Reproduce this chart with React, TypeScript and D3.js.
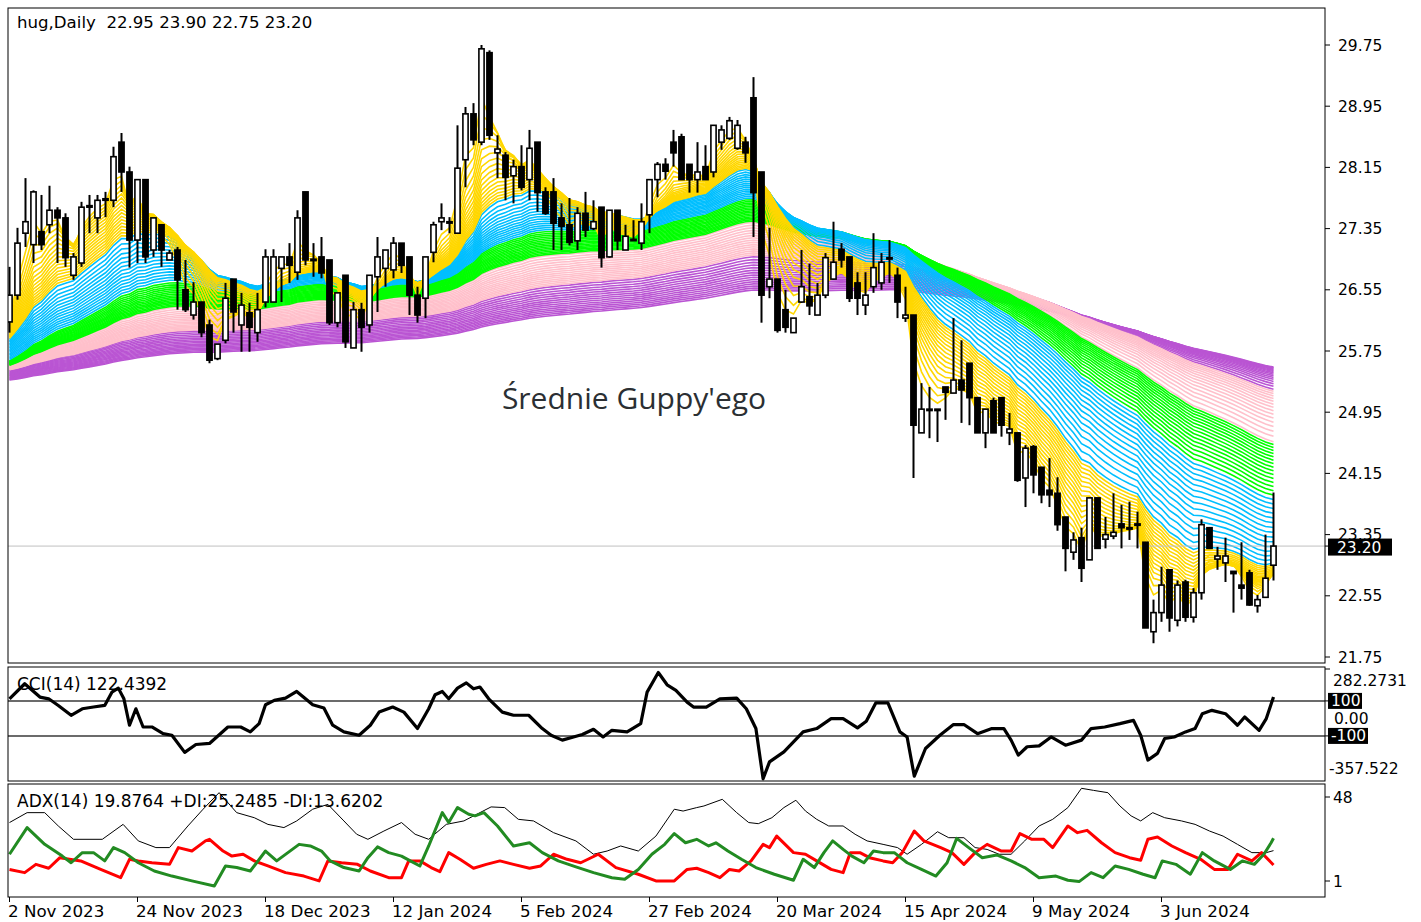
import React from 'react';
import * as d3 from 'd3';

// ---------------- data ----------------
const OPEN = [
  26.13, 26.48, 27.29, 27.14, 27.31, 27.40, 27.59, 27.49, 26.74, 26.90,
  27.63, 27.49, 27.72, 27.72, 28.48, 28.09, 27.20, 27.99, 27.07, 27.40,
  26.94, 27.07, 26.55, 26.22, 26.39, 26.09, 25.65, 25.89, 26.69, 26.09,
  26.25, 25.99, 26.39, 26.39, 26.83, 26.98, 26.78, 27.83, 26.94, 26.98,
  26.94, 26.12, 26.74, 25.79, 26.29, 26.09, 26.72, 26.83, 26.81, 27.16,
  26.98, 26.48, 26.44, 27.04, 27.44, 27.44, 27.29, 28.25, 28.85, 28.48,
  29.65, 28.34, 28.31, 28.04, 28.16, 27.99, 28.48, 27.83, 27.83, 27.49,
  27.40, 27.19, 27.55, 27.35, 27.63, 26.98, 27.59, 27.07, 27.20, 27.16,
  27.53, 27.99, 28.19, 28.48, 28.55, 28.19, 27.99, 28.16, 28.09, 28.48,
  28.53, 28.40, 28.48, 29.06, 28.09, 26.59, 26.69, 26.29, 25.99, 26.39,
  26.46, 26.22, 26.48, 26.69, 27.08, 26.98, 26.64, 26.35, 26.59, 26.64,
  26.97, 26.74, 26.18, 26.22, 24.68, 24.99, 24.99, 25.28, 25.20, 25.37,
  25.59, 25.14, 24.68, 25.10, 25.14, 24.68, 24.68, 24.09, 24.50, 24.23,
  23.93, 23.89, 23.58, 23.12, 23.31, 23.02, 23.83, 23.29, 23.33, 23.49,
  23.44, 23.49, 23.25, 22.08, 22.33, 22.89, 22.23, 22.73, 22.27, 22.59,
  23.44, 23.03, 22.98, 22.87, 22.69, 22.85, 22.42, 22.53, 22.95,
];
const HIGH = [
  26.85, 27.36, 28.01, 27.85, 27.79, 27.91, 27.63, 27.55, 27.03, 27.70,
  27.79, 27.79, 27.83, 28.42, 28.60, 28.16, 27.99, 27.99, 27.49, 27.40,
  27.07, 27.11, 26.94, 26.65, 26.39, 26.16, 25.84, 26.64, 26.69, 26.51,
  26.38, 26.51, 27.08, 27.08, 26.98, 27.16, 27.59, 27.83, 27.16, 27.24,
  26.94, 26.51, 26.74, 26.39, 26.38, 26.74, 27.24, 27.07, 27.24, 27.16,
  26.98, 26.59, 26.98, 27.44, 27.68, 27.50, 28.70, 28.94, 28.99, 29.75,
  29.68, 28.57, 28.35, 28.25, 28.44, 28.64, 28.48, 27.89, 28.01, 27.68,
  27.75, 27.63, 27.83, 27.72, 27.63, 27.59, 27.59, 27.40, 27.46, 27.68,
  27.99, 28.22, 28.27, 28.64, 28.59, 28.19, 28.48, 28.44, 28.70, 28.70,
  28.81, 28.77, 28.55, 29.33, 28.09, 27.36, 26.69, 26.55, 26.18, 27.07,
  26.89, 26.64, 27.03, 27.44, 27.16, 26.98, 26.78, 26.78, 27.29, 27.03,
  27.20, 26.84, 26.59, 26.22, 25.33, 25.28, 24.99, 25.28, 26.18, 25.89,
  25.59, 25.14, 24.99, 25.14, 25.14, 24.94, 24.68, 24.52, 24.52, 24.23,
  24.35, 24.10, 23.58, 23.38, 23.44, 23.83, 23.83, 23.58, 23.89, 23.74,
  23.78, 23.65, 23.25, 22.50, 22.93, 22.89, 22.75, 22.76, 22.65, 23.55,
  23.45, 23.19, 23.31, 22.87, 23.25, 22.89, 22.56, 23.35, 23.90,
];
const LOW = [
  25.99, 26.42, 27.11, 26.90, 27.07, 27.29, 26.90, 26.85, 26.68, 26.85,
  27.29, 27.29, 27.50, 27.63, 27.83, 26.84, 26.90, 26.90, 26.98, 26.85,
  26.94, 26.29, 26.26, 26.16, 25.93, 25.59, 25.63, 25.85, 25.99, 25.74,
  25.74, 25.87, 26.32, 26.39, 26.39, 26.64, 26.68, 26.87, 26.72, 26.70,
  26.09, 26.06, 25.79, 25.79, 25.74, 25.99, 26.26, 26.59, 26.70, 26.77,
  26.22, 26.12, 26.18, 26.91, 27.33, 27.29, 27.29, 27.89, 28.44, 28.44,
  28.51, 28.01, 27.72, 27.68, 27.85, 27.72, 27.57, 27.53, 27.07, 27.07,
  27.13, 27.07, 27.24, 27.33, 26.84, 26.97, 27.07, 27.07, 27.19, 27.07,
  27.29, 27.76, 27.99, 28.16, 27.99, 27.82, 27.82, 27.99, 28.02, 28.38,
  28.51, 28.38, 28.21, 27.24, 26.12, 26.44, 25.99, 25.99, 25.99, 26.38,
  26.22, 26.22, 26.44, 26.68, 26.84, 26.39, 26.22, 26.22, 26.51, 26.55,
  26.64, 26.18, 26.13, 24.09, 24.68, 24.61, 24.56, 24.85, 25.20, 24.81,
  24.78, 24.68, 24.48, 24.68, 24.63, 24.52, 24.04, 23.71, 23.89, 23.76,
  23.71, 23.40, 22.87, 23.02, 22.73, 23.02, 23.17, 23.17, 23.29, 23.17,
  23.28, 23.17, 22.13, 21.93, 22.21, 22.08, 22.15, 22.21, 22.20, 22.50,
  23.17, 22.89, 22.73, 22.33, 22.50, 22.42, 22.33, 22.53, 22.75,
];
const CLOSE = [
  26.48, 27.16, 27.44, 27.83, 27.14, 27.59, 27.49, 26.97, 26.98, 27.63,
  27.65, 27.72, 27.74, 28.29, 28.09, 27.20, 27.99, 26.98, 27.49, 27.07,
  27.03, 26.68, 26.29, 26.39, 25.99, 25.63, 25.84, 26.44, 26.26, 26.35,
  26.06, 26.29, 26.98, 26.98, 26.98, 26.87, 27.49, 26.94, 26.95, 26.77,
  26.12, 26.51, 25.87, 26.29, 26.06, 26.74, 26.98, 27.07, 27.16, 26.87,
  26.48, 26.22, 26.98, 27.40, 27.49, 27.44, 28.14, 28.85, 28.51, 29.70,
  28.57, 28.39, 28.02, 28.16, 27.89, 28.40, 27.82, 27.55, 27.42, 27.38,
  27.17, 27.55, 27.33, 27.44, 26.97, 27.59, 27.19, 27.25, 27.21, 27.44,
  27.99, 28.19, 28.10, 28.34, 27.99, 27.99, 28.09, 27.99, 28.70, 28.64,
  28.76, 28.70, 28.34, 27.82, 26.48, 26.69, 26.02, 26.06, 26.18, 26.59,
  26.34, 26.48, 26.97, 26.91, 26.94, 26.44, 26.44, 26.48, 26.84, 26.91,
  26.97, 26.39, 26.22, 24.78, 24.99, 24.99, 24.99, 25.21, 25.37, 25.24,
  25.14, 24.68, 24.99, 24.68, 24.78, 24.73, 24.06, 24.48, 24.13, 23.87,
  23.87, 23.48, 23.17, 23.28, 22.91, 23.83, 23.17, 23.35, 23.38, 23.44,
  23.44, 23.49, 22.13, 22.33, 22.69, 22.26, 22.69, 22.27, 22.59, 23.48,
  23.17, 23.07, 23.07, 22.84, 22.65, 22.43, 22.50, 22.78, 23.20,
];

// Guppy EMA periods per colour group
const GOLD_PERIODS = [3, 4, 5, 6, 7, 8, 9, 10, 11, 12, 13, 14, 15, 16, 17, 18, 19];
const BLUE_PERIODS = [20, 22, 24, 26, 28, 30, 32, 34, 36, 38, 40, 42, 44, 46, 48];
const GREEN_PERIODS = [50, 52, 54, 56, 58, 60, 62, 64, 66, 68, 70, 72, 74, 76, 78];
const PINK_PERIODS = [80, 84, 88, 92, 96, 100, 104, 108, 112, 116, 120, 124, 128, 132, 136];
const PURPLE_PERIODS = [140, 146, 152, 158, 164, 170, 176, 182, 188, 194, 200, 206, 212, 218, 224];
// EMA values at the first visible bar (read at the left edge)
const SEED_PERIODS = [3, 20, 50, 80, 140, 224];
const SEED_VALUES = [26.15, 25.9, 25.62, 25.56, 25.5, 25.37];

// CCI(14): [bar index, value]
const CCI_POINTS: [number, number][] = [
  [0, 112], [1.9, 198], [3.8, 122], [4.9, 112], [6.1, 74], [7.7, 18], [9.1, 55], [10.5, 65],
  [11.9, 74], [12.8, 150], [13.6, 173], [14.3, 112], [15, -39], [15.8, 55], [16.7, -49],
  [17.8, -49], [19.2, -87], [20.3, -96], [21.9, -194], [23.3, -149], [25, -143], [27.3, -49],
  [28.9, -49], [30.1, -77], [31.2, -30], [32, 78], [33.1, 103], [34.5, 116], [35.9, 154],
  [37, 112], [37.9, 78], [39.3, 59], [40.4, -39], [41.8, -77], [43.7, -96], [45.1, -39],
  [46.2, 36], [47.9, 65], [49.3, 36], [51, -58], [52.4, 55], [53.2, 135], [54.1, 154],
  [54.9, 112], [56, 173], [57.1, 203], [58, 169], [58.8, 179], [59.9, 112], [61.6, 36],
  [63, 18], [64.9, 18], [66.6, -58], [67.7, -96], [69.1, -124], [70.5, -106], [71.6, -92],
  [73, -62], [74.2, -106], [75.3, -68], [77.2, -77], [78.9, -30], [79.7, 150], [81.1, 262],
  [82.2, 192], [83.3, 160], [84.7, 93], [85.5, 65], [87.1, 65], [88.8, 112], [90.9, 116],
  [92.1, 55], [93.3, -58], [94.2, -345], [95, -248], [96.8, -191], [99.2, -77], [100.9, -58],
  [102.7, -1], [104.2, -1], [106, -54], [107.1, -16], [108.3, 89], [109.8, 89], [111.3, -77],
  [112.2, -106], [113.1, -330], [114.5, -172], [116.3, -96], [118, -35], [119.3, -35],
  [121, -87], [122.8, -58], [124.3, -58], [125.2, -124], [126.1, -210], [127.2, -162],
  [128.7, -157], [130.2, -106], [132, -153], [134, -124], [135.2, -58], [136.9, -49],
  [138.8, -30], [140.5, -11], [141.4, -96], [142.3, -238], [143.5, -200], [144.4, -115],
  [145.6, -106], [147, -77], [148.2, -58], [149.1, 27], [150.3, 46], [152, 27], [153.5, -39],
  [154.4, 8], [156.2, -68], [157.1, -1], [158, 122.44],
];
const CCI_LEVELS = [100, -100];

// ADX(14), +DI, -DI: [bar index, value]
const ADX_POINTS: [number, number][] = [
  [0, 32.1], [2.2, 36.4], [4.4, 36.4], [6.1, 30.6], [8, 24.8], [11.6, 24.8], [14.2, 31.3],
  [16.1, 24.1], [18.3, 21.2], [20, 21.2], [22.3, 30.6], [24.2, 37.9], [26.2, 45.1], [28.4, 36.4],
  [30.6, 34.2], [32.3, 31.3], [34.3, 29.9], [35.9, 32.8], [37.9, 37.9], [39.8, 40], [41.8, 32.8],
  [43.4, 27], [44.8, 24.8], [46.8, 28.4], [49, 32.1], [50.7, 27], [52.4, 24.8], [54.6, 31.3],
  [56.8, 32.8], [58.8, 36.4], [60.2, 38.9], [61.9, 38.6], [63.6, 33.5], [65.5, 32.8], [68, 27.7],
  [70.8, 24.1], [73, 18.3], [74.7, 19.7], [76.4, 21.9], [78.6, 19.7], [80.8, 26.2], [83.1, 37.9],
  [84.2, 37.1], [85.9, 38.6], [86.8, 39.3], [89.1, 42.2], [90.9, 36.4], [92.4, 32.1],
  [93.6, 31.6], [95.3, 34.2], [96.8, 38.6], [98.3, 41.8], [99.5, 37.1], [100.9, 33.5],
  [102.4, 30.6], [104.2, 30.6], [105.7, 27], [107.2, 24.1], [109.2, 22.6], [111, 21.2],
  [112.2, 18.3], [114, 22.6], [116, 28.1], [117.4, 25.5], [119.3, 25.5], [120.7, 21.2],
  [122.2, 20.4], [123.7, 18.3], [125.2, 18.3], [126.9, 24.1], [128.7, 30.6], [130.4, 33.5],
  [132.3, 38.6], [134, 47], [135.5, 46.1], [137.3, 45.1], [138.8, 39.3], [140.2, 35],
  [141.4, 32.8], [142.9, 36.4], [144.4, 34.2], [146.5, 32.8], [148.2, 31.3], [150, 28.4],
  [151.7, 26.2], [153.5, 22.6], [155.3, 19], [157.1, 19], [158, 19.88],
];
const PDI_POINTS: [number, number][] = [
  [0, 18.3], [2.2, 29.9], [4.4, 22.6], [6.6, 17.5], [7.7, 14.6], [9.1, 19], [10.5, 19],
  [11.9, 15.4], [13, 21.2], [14.4, 19], [16.1, 14.6], [18.1, 11], [20.3, 8.8], [22.8, 6.7],
  [25.6, 4.5], [27, 13.2], [28.4, 12.5], [30.1, 11], [32, 19.7], [33.4, 15.4], [34.8, 19],
  [36.2, 22.6], [37.6, 21.9], [39, 19.7], [40.1, 15.4], [41.8, 12.5], [43.7, 11], [44.8, 16.8],
  [46, 21.5], [47.4, 19], [49, 17.5], [50.1, 15.4], [51.3, 13.2], [52.4, 21.9], [54.1, 36.4],
  [54.9, 32.1], [56, 38.6], [57.4, 35.7], [58.2, 35], [59.3, 36.4], [61, 30.6], [63, 21.9],
  [65, 23.3], [66.6, 19], [68.6, 15.4], [70.8, 12.8], [73, 10.3], [75.3, 8.1], [76.9, 7.4],
  [78.6, 11.7], [80.3, 18.3], [81.9, 22.6], [83.1, 27.3], [84.5, 23.3], [85.9, 24.8],
  [87.4, 21.9], [88.3, 23.3], [89.8, 19.7], [91.5, 16.1], [93.3, 12.5], [95.6, 9.6], [98, 7],
  [99.2, 16.1], [100.6, 12.5], [101.8, 19], [102.9, 24.1], [104.2, 20.4], [105.3, 17.5],
  [106.8, 14.6], [108, 19.7], [109.2, 19], [110.6, 19], [112.2, 14.6], [114, 11.7],
  [115.8, 8.8], [117.2, 14.6], [118.4, 25.2], [119.9, 21.2], [121.6, 16.8], [123.4, 18],
  [125.2, 15.4], [126.9, 12.5], [128.7, 8.1], [130.8, 8.8], [132.3, 7], [133.7, 6.4],
  [135.2, 10.3], [136.7, 8.1], [138.2, 13.2], [139.9, 11.7], [141.7, 9.6], [143.2, 8.1],
  [144.1, 15.4], [145.8, 13.9], [147.6, 9.6], [149.1, 19], [150.6, 15.4], [152.6, 11.7],
  [154.1, 15.4], [155.6, 13.9], [156.8, 18.3], [157.7, 23.3], [158, 25.25],
];
const MDI_POINTS: [number, number][] = [
  [0, 11.7], [1.9, 10.3], [3.3, 13.9], [4.9, 12.2], [6.3, 16.8], [8.9, 15.4], [11.4, 11.7],
  [13.9, 8.1], [15, 16.1], [16.1, 15.4], [17.8, 14.6], [20, 13.9], [21.1, 21.2], [22.8, 19.7],
  [24.5, 24.1], [25, 24.8], [26.7, 19.7], [27.8, 17.5], [29.2, 18.3], [30.6, 15.4], [32.3, 13.2],
  [34.5, 10.3], [36.8, 8.8], [38.7, 6.7], [39.8, 15.4], [41.5, 14.6], [43.5, 13.9], [45.1, 11],
  [47.4, 8.1], [49, 8.1], [49.9, 15.4], [51.3, 15.4], [52.7, 12.5], [53.8, 10.7], [54.9, 19],
  [56.3, 16.1], [58, 12.2], [59.6, 13.9], [61.3, 15.4], [63, 13.9], [65, 12.2], [66.4, 13.2],
  [68, 18.3], [69.7, 16.1], [71.4, 14.6], [73.6, 18.3], [75.8, 12.5], [78.6, 9.6], [80.8, 6.7],
  [83.1, 6.7], [84.7, 11.7], [85.9, 12.2], [87.4, 10.3], [88.8, 8.1], [90, 11.7], [91.2, 11],
  [92.7, 15.4], [94.2, 22.6], [95, 21.2], [95.9, 26.2], [98, 19], [99.5, 18.3], [100.9, 15.4],
  [102.7, 11.7], [104.2, 10.3], [105.1, 19], [106.3, 19], [107.5, 16.8], [109.2, 15.4],
  [110.4, 14.6], [111.6, 19], [113.1, 28.4], [114.3, 24.1], [116.4, 21.2], [117.8, 19],
  [119.3, 13.9], [120.7, 19], [122.2, 22.6], [124, 19.7], [125.2, 19.7], [126.3, 27.3],
  [127.8, 24.8], [129.3, 24.8], [130.4, 21.2], [132.3, 30.6], [133.5, 27.7], [134.7, 28.7],
  [136.5, 23.3], [138.2, 19], [140, 16.8], [141.4, 15.7], [142.3, 24.8], [143.5, 25.8],
  [145.3, 21.9], [147, 19], [148.9, 16.1], [150.6, 11.7], [152.3, 11.7], [153.5, 18.3],
  [155.3, 15.4], [156.5, 19], [158, 13.62],
];

const PRICE_TICKS = [29.75, 28.95, 28.15, 27.35, 26.55, 25.75, 24.95, 24.15, 23.35, 22.55, 21.75];
const DATE_TICK_BARS = [0, 16, 32, 48, 64, 80, 96, 112, 128, 144];
const DATE_TICK_LABELS = [
  '2 Nov 2023', '24 Nov 2023', '18 Dec 2023', '12 Jan 2024', '5 Feb 2024',
  '27 Feb 2024', '20 Mar 2024', '15 Apr 2024', '9 May 2024', '3 Jun 2024',
];
const LAST_PRICE = 23.2;
const TITLE = 'hug,Daily  22.95 23.90 22.75 23.20';
const CCI_TITLE = 'CCI(14) 122.4392';
const ADX_TITLE = 'ADX(14) 19.8764 +DI:25.2485 -DI:13.6202';
const CCI_MAX = 282.2731;
const CCI_MIN = -357.522;
const ADX_MAX = 48;
const ADX_MIN = 1;

// ---------------- layout ----------------
const W = 1421;
const H = 922;
const FL = 8;
const FR = 1325;
const MAIN_T = 8, MAIN_B = 663;
const CCI_T = 667, CCI_B = 781;
const ADX_T = 784, ADX_B = 897;
const FONT = '"DejaVu Sans", Verdana, sans-serif';

const N = CLOSE.length;
const x = d3.scaleLinear().domain([0, N - 1]).range([9.5, 9.5 + 8 * (N - 1)]);
const yP = d3.scaleLinear().domain([21.75, 29.75]).range([657, 45]);
const yC = d3.scaleLinear().domain([CCI_MIN, CCI_MAX]).range([781, 669]);
const yA = d3.scaleLinear().domain([ADX_MIN, ADX_MAX]).range([894, 786]);

const seedScale = d3.scaleLinear().domain(SEED_PERIODS).range(SEED_VALUES);

function ema(period: number): number[] {
  const a = 2 / (period + 1);
  const out: number[] = [seedScale(period)];
  for (let i = 1; i < N; i++) out.push(out[i - 1] + a * (CLOSE[i] - out[i - 1]));
  return out;
}

const GROUPS = [
  { periods: PURPLE_PERIODS, color: '#BA55D3' },
  { periods: PINK_PERIODS, color: '#FFC0CB' },
  { periods: GREEN_PERIODS, color: '#00FF00' },
  { periods: BLUE_PERIODS, color: '#00BFFF' },
  { periods: GOLD_PERIODS, color: '#FFD700' },
];

const emaLine = d3.line<number>().x((_, i) => x(i)).y((v) => yP(v));
const ptLine = (ys: d3.ScaleLinear<number, number>) =>
  d3.line<[number, number]>().x((d) => x(d[0])).y((d) => ys(d[1]));

export default function App() {
  const guppy = GROUPS.map((g) => ({
    color: g.color,
    paths: g.periods.map((p) => emaLine(ema(p)) as string),
  }));

  const candles = CLOSE.map((c, i) => {
    const o = OPEN[i];
    const cx = x(i);
    const top = yP(Math.max(o, c));
    const bot = yP(Math.min(o, c));
    const bull = c >= o;
    return (
      <g key={i}>
        <line x1={cx} x2={cx} y1={yP(HIGH[i])} y2={yP(LOW[i])} stroke="#000" strokeWidth={2} />
        <rect
          x={cx - 2.6}
          y={top}
          width={5.2}
          height={Math.max(bot - top, 1.4)}
          fill={bull ? '#fff' : '#000'}
          stroke="#000"
          strokeWidth={1.6}
        />
      </g>
    );
  });

  const cciPath = ptLine(yC)(CCI_POINTS) as string;
  const adxPath = ptLine(yA)(ADX_POINTS) as string;
  const pdiPath = ptLine(yA)(PDI_POINTS) as string;
  const mdiPath = ptLine(yA)(MDI_POINTS) as string;

  const axisText = { fontFamily: FONT, fontSize: 15.5, fill: '#000' } as const;

  return (
    <svg
      width={W}
      height={H}
      viewBox={`0 0 ${W} ${H}`}
      style={{ position: 'absolute', left: 0, top: 0, background: '#fff' }}
    >
      <defs>
        <clipPath id="clipMain">
          <rect x={FL} y={MAIN_T} width={FR - FL} height={MAIN_B - MAIN_T} />
        </clipPath>
        <clipPath id="clipCci">
          <rect x={FL} y={CCI_T} width={FR - FL} height={CCI_B - CCI_T} />
        </clipPath>
        <clipPath id="clipAdx">
          <rect x={FL} y={ADX_T} width={FR - FL} height={ADX_B - ADX_T} />
        </clipPath>
      </defs>
      <rect x={0} y={0} width={W} height={H} fill="#fff" />

      {/* main panel */}
      <g clipPath="url(#clipMain)">
        {guppy.map((g, gi) => (
          <g key={gi} stroke={g.color} fill="none" strokeWidth={1.6}>
            {g.paths.map((d, k) => (
              <path key={k} d={d} />
            ))}
          </g>
        ))}
        <line x1={FL} x2={FR} y1={yP(LAST_PRICE)} y2={yP(LAST_PRICE)} stroke="#c0c0c0" strokeWidth={1} />
        {candles}
      </g>
      <text x={17} y={28} style={{ ...axisText, fontSize: 16.6, whiteSpace: 'pre' }} xmlSpace="preserve">
        {TITLE}
      </text>
      <text
        x={634}
        y={409}
        textAnchor="middle"
        style={{ fontFamily: '"Open Sans", "Noto Sans", sans-serif', fontSize: 30, fill: '#2b2f33' }}
      >
        Średnie Guppy&apos;ego
      </text>
      <rect x={FL} y={MAIN_T} width={FR - FL} height={MAIN_B - MAIN_T} fill="none" stroke="#000" strokeWidth={1} />
      {PRICE_TICKS.map((p) => (
        <g key={p}>
          <line x1={FR} x2={FR + 5} y1={yP(p)} y2={yP(p)} stroke="#000" />
          <text x={1338} y={yP(p)} dy="0.36em" style={axisText}>
            {p.toFixed(2)}
          </text>
        </g>
      ))}
      <line x1={FR} x2={FR + 5} y1={yP(LAST_PRICE)} y2={yP(LAST_PRICE)} stroke="#000" />
      <rect x={1328} y={yP(LAST_PRICE) - 7.5} width={64} height={17} fill="#000" />
      <text x={1337} y={yP(LAST_PRICE) + 1} dy="0.36em" style={{ ...axisText, fill: '#fff' }}>
        {LAST_PRICE.toFixed(2)}
      </text>

      {/* CCI panel */}
      <g clipPath="url(#clipCci)">
        {CCI_LEVELS.map((l) => (
          <line key={l} x1={FL} x2={FR} y1={yC(l)} y2={yC(l)} stroke="#3a3a3a" strokeWidth={1.5} />
        ))}
        <path d={cciPath} fill="none" stroke="#000" strokeWidth={3.2} strokeLinejoin="round" />
      </g>
      <rect x={FL} y={CCI_T} width={FR - FL} height={CCI_B - CCI_T} fill="none" stroke="#000" />
      <text x={17} y={690} style={{ ...axisText, fontSize: 17 }}>
        {CCI_TITLE}
      </text>
      <line x1={FR} x2={FR + 5} y1={yC(CCI_MAX)} y2={yC(CCI_MAX)} stroke="#000" />
      <text x={1333} y={yC(CCI_MAX) + 11} dy="0.36em" style={axisText}>
        {CCI_MAX.toFixed(4)}
      </text>
      <text x={1334} y={yC(0)} dy="0.36em" style={axisText}>
        0.00
      </text>
      {CCI_LEVELS.map((l) => (
        <g key={l}>
          <line x1={FR} x2={FR + 5} y1={yC(l)} y2={yC(l)} stroke="#000" />
          <rect x={1328} y={yC(l) - 8} width={l > 0 ? 34 : 40} height={16} fill="#000" />
          <text x={1331} y={yC(l)} dy="0.36em" style={{ ...axisText, fill: '#fff' }}>
            {String(l)}
          </text>
        </g>
      ))}
      <text x={1329} y={yC(CCI_MIN) - 13} dy="0.36em" style={axisText}>
        {CCI_MIN.toFixed(3)}
      </text>

      {/* ADX panel */}
      <g clipPath="url(#clipAdx)" fill="none" strokeLinejoin="round">
        <path d={adxPath} stroke="#000" strokeWidth={1} />
        <path d={mdiPath} stroke="#ff0000" strokeWidth={3} />
        <path d={pdiPath} stroke="#228B22" strokeWidth={3} />
      </g>
      <rect x={FL} y={ADX_T} width={FR - FL} height={ADX_B - ADX_T} fill="none" stroke="#000" />
      <text x={17} y={807} style={{ ...axisText, fontSize: 17 }}>
        {ADX_TITLE}
      </text>
      <line x1={FR} x2={FR + 5} y1={yA(ADX_MAX) + 11} y2={yA(ADX_MAX) + 11} stroke="#000" />
      <text x={1333} y={yA(ADX_MAX) + 11} dy="0.36em" style={axisText}>
        {String(ADX_MAX)}
      </text>
      <line x1={FR} x2={FR + 5} y1={yA(ADX_MIN) - 13} y2={yA(ADX_MIN) - 13} stroke="#000" />
      <text x={1333} y={yA(ADX_MIN) - 13} dy="0.36em" style={axisText}>
        {String(ADX_MIN)}
      </text>

      {/* time axis */}
      {DATE_TICK_BARS.map((b, k) => (
        <g key={b}>
          <line x1={x(b)} x2={x(b)} y1={ADX_B} y2={ADX_B + 5} stroke="#000" />
          <text x={x(b) - 1.5} y={917} style={{ ...axisText, fontSize: 16.7 }}>
            {DATE_TICK_LABELS[k]}
          </text>
        </g>
      ))}
    </svg>
  );
}
